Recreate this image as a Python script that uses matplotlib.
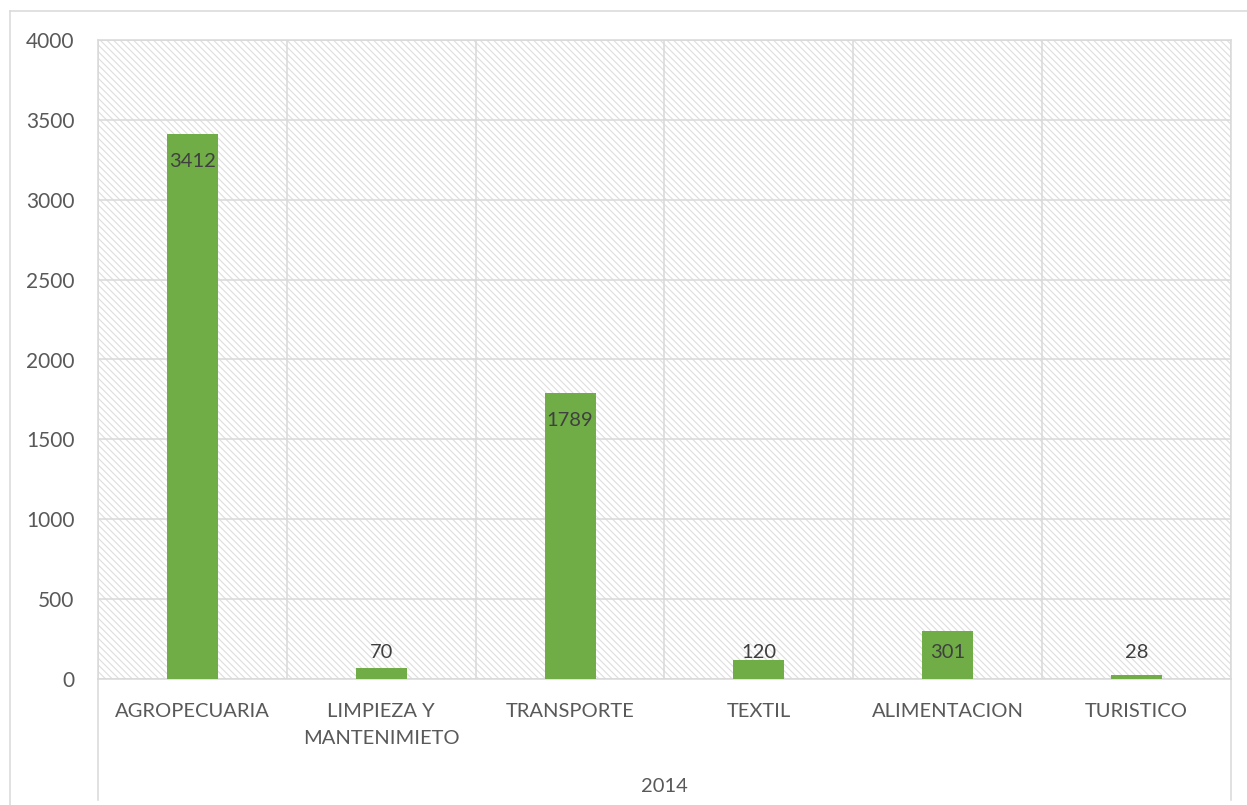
import matplotlib
matplotlib.use("Agg")
import matplotlib.pyplot as plt
from matplotlib.lines import Line2D
import numpy as np

# data
categories = ["AGROPECUARIA", "LIMPIEZA Y\nMANTENIMIETO", "TRANSPORTE",
              "TEXTIL", "ALIMENTACION", "TURISTICO"]
values = [3412, 70, 1789, 120, 301, 28]
group_label = "2014"
y_ticks = [0, 500, 1000, 1500, 2000, 2500, 3000, 3500, 4000]

plt.rcParams['font.family'] = ['Lato', 'DejaVu Sans']
plt.rcParams['hatch.linewidth'] = 0.8
plt.rcParams['hatch.color'] = '#dedede'

grid_c = '#d9d9d9'
text_c = '#595959'
fs = 14.5

fig = plt.figure(figsize=(12.47, 8.05), dpi=100)
ax = fig.add_axes([98 / 1247, 126 / 805, (1231 - 98) / 1247, (679 - 40) / 805])

# hatched plot area
ax.patch.set_facecolor('white')
ax.patch.set_hatch('\\\\\\\\\\')
ax.patch.set_edgecolor('#dedede')

x = np.arange(len(categories))
bars = ax.bar(x, values, width=0.27, color='#70ad47', zorder=3)

ax.set_xlim(-0.5, len(categories) - 0.5)
ax.set_ylim(0, 4000)
ax.set_yticks(y_ticks)
ax.set_xticks(x)
ax.set_xticklabels(categories, linespacing=1.75)
ax.set_xticks(np.arange(-0.5, len(categories)), minor=True)

ax.grid(axis='y', color=grid_c, linewidth=1.1, zorder=1)
ax.grid(axis='x', which='minor', color=grid_c, linewidth=1.1, zorder=1)
ax.tick_params(axis='both', which='both', length=0, colors=text_c, labelsize=fs)
ax.tick_params(axis='y', labelsize=15, pad=17)
ax.tick_params(axis='x', pad=17)
for lab in ax.get_xticklabels():
    lab.set_verticalalignment('top')

for s in ax.spines.values():
    s.set_color(grid_c)
    s.set_linewidth(1.1)

# data labels: inside end, but kept above a minimum height
for xi, v in zip(x, values):
    ax.text(xi, max(v - 170, 163), str(v), ha='center', va='center',
            fontsize=fs, color='#404040', zorder=4)

# multi-level category axis
ax.plot([0, 0], [0, -0.19], transform=ax.transAxes, color=grid_c,
        linewidth=1.1, clip_on=False)
ax.plot([1, 1], [0, -0.19], transform=ax.transAxes, color=grid_c,
        linewidth=1.1, clip_on=False)
ax.text(0.5, -0.1675, group_label, transform=ax.transAxes, ha='center',
        va='center', fontsize=fs, color=text_c)

# chart border
fig.add_artist(Line2D([10 / 1247, 10 / 1247], [0, 1 - 11 / 805],
                      color=grid_c, linewidth=1.1))
fig.add_artist(Line2D([10 / 1247, 1], [1 - 11 / 805, 1 - 11 / 805],
                      color=grid_c, linewidth=1.1))

fig.savefig("out.png", dpi=100)
